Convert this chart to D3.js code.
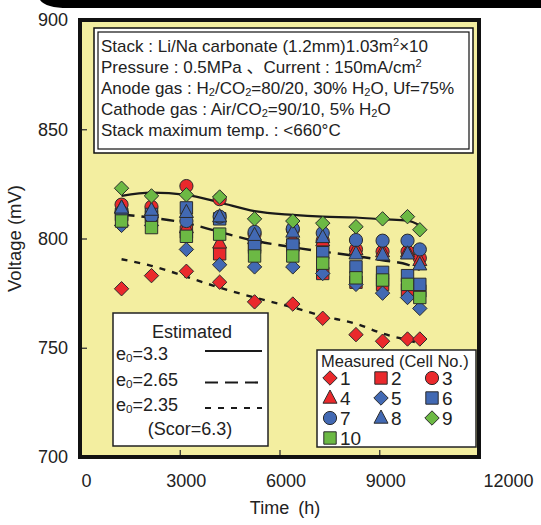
<!DOCTYPE html>
<html>
<head>
<meta charset="utf-8">
<script src="https://cdn.jsdelivr.net/npm/d3@7"></script>
<style>
  body { margin: 0; background: #fff; }
  svg text { font-family: "Liberation Sans", Arial, "Noto Sans CJK JP", sans-serif; fill: #222; }
</style>
</head>
<body>
<script>
const W = 541, H = 525;

// measurement times (h)
const times = [1250, 2150, 3200, 4200, 5250, 6400, 7300, 8300, 9100, 9850, 10220];

// cell voltages (mV), cells 1..10
const cell1  = [777, 783, 785, 780, 771, 770, 763.5, 756, 753, 754, 754];
const cell2  = [811, 810, 803, 793, 796, 797, 784, 780, 779, 776.5, 776];
const cell3  = [815.5, 814.5, 824, 818, 802, 804, 799, 795, 794, 794, 791];
const cell4  = [814, 812, 805, 798, 800, 800, 799, 795, 794, 794, 790];
const cell5  = [806, 806, 795, 788, 787, 787, 784, 779, 775, 773, 768];
const cell6  = [811, 811, 814, 809, 797, 797, 793.5, 787, 784.5, 783, 779];
const cell7  = [812, 810, 808, 810, 803, 804.5, 802.5, 799.3, 799, 799, 795];
const cell8  = [814, 813, 812, 810, 801.5, 803, 800.5, 793, 792.5, 793, 788];
const cell9  = [823, 819.5, 820, 819, 809, 808, 807, 805.4, 809, 810, 804];
const cell10 = [808, 805, 801, 802, 792, 792, 788.7, 782, 781, 779, 773];
const cells = [cell1, cell2, cell3, cell4, cell5, cell6, cell7, cell8, cell9, cell10];

const cellShapes = ["diamond", "square", "circle", "triangle", "diamond", "square", "circle", "triangle", "diamond", "square"];
const cellColors = ["red", "red", "red", "red", "blue", "blue", "blue", "blue", "green", "green"];

// estimated curves
const estTimes = [1250, 2150, 3200, 4200, 5250, 6400, 7300, 8300, 9100, 9850, 10220];
const est33  = [819.5, 821, 820, 816.5, 812.5, 810.8, 810, 809.6, 808.8, 808.2, 806];
const est265 = [811, 809.5, 807, 803, 799, 796, 794, 792, 790, 788, 785.6];
const est235 = [790.5, 787.5, 782.5, 777.5, 773, 768.5, 764.5, 761, 756.5, 753.5, 752];

const xTicks = [0, 3000, 6000, 9000, 12000];
const yTicks = [700, 750, 800, 850, 900];

const palette = { red: "#ea292c", blue: "#4269b3", green: "#6cb944" };
const yellow = "#f3eea0";

const svg = d3.select("body").append("svg")
    .attr("width", W)
    .attr("height", H);

svg.append("rect").attr("width", W).attr("height", H).attr("fill", "#fff");

// black band cut at the top
svg.append("path")
    .attr("d", "M40,0 Q46,8 68,8 L541,8 L541,0 Z")
    .attr("fill", "#000");

const x = d3.scaleLinear().domain([0, 12000]).range([80, 479]);
const y = d3.scaleLinear().domain([700, 900]).range([457, 20]);

// plot frame
svg.append("rect")
    .attr("x", x(0)).attr("y", y(900))
    .attr("width", x(12000) - x(0)).attr("height", y(700) - y(900))
    .attr("fill", yellow);

// inner ticks
svg.append("g")
    .attr("transform", `translate(0,${y(700)})`)
    .call(d3.axisBottom(x).tickValues([3000, 6000, 9000]).tickSize(-7).tickFormat(""))
    .call(g => g.select(".domain").remove())
    .call(g => g.selectAll("line").attr("stroke", "#333").attr("stroke-width", 1.3));
svg.append("g")
    .attr("transform", `translate(${x(0)},0)`)
    .call(d3.axisLeft(y).tickValues([750, 800, 850]).tickSize(-7).tickFormat(""))
    .call(g => g.select(".domain").remove())
    .call(g => g.selectAll("line").attr("stroke", "#333").attr("stroke-width", 1.3));

// tick labels
svg.append("g")
    .attr("transform", `translate(0,${y(700)})`)
    .call(d3.axisBottom(x).tickValues(xTicks).tickSize(0).tickPadding(17).tickFormat(d3.format("d")))
    .call(g => g.select(".domain").remove())
    .call(g => g.selectAll("text").attr("font-size", 18).attr("fill", "#222")
        .attr("dx", d => d === 12000 ? 29 : 6));
svg.append("g")
    .attr("transform", `translate(${x(0)},0)`)
    .call(d3.axisLeft(y).tickValues(yTicks).tickSize(0).tickPadding(12))
    .call(g => g.select(".domain").remove())
    .call(g => g.selectAll("text").attr("font-size", 18).attr("fill", "#222"));

svg.append("text")
    .attr("x", 285).attr("y", 514)
    .attr("text-anchor", "middle").attr("font-size", 18)
    .text("Time\u2002(h)");
svg.append("text")
    .attr("transform", `translate(21,${(y(700) + y(900)) / 2}) rotate(-90)`)
    .attr("text-anchor", "middle").attr("font-size", 18.5)
    .text("Voltage (mV)");

// conditions box
svg.append("rect").attr("x", 94).attr("y", 28).attr("width", 379).attr("height", 125)
    .attr("fill", "#fff").attr("stroke", "#111").attr("stroke-width", 1.5);
svg.append("rect").attr("x", 98).attr("y", 32).attr("width", 371).attr("height", 117)
    .attr("fill", "#fff").attr("stroke", "#111").attr("stroke-width", 1.2);

const infoLines = [
    [["Stack : Li/Na carbonate (1.2mm)1.03m"], ["2", "sup"], ["\u00d710"]],
    [["Pressure : 0.5MPa \u3001Current : 150mA/cm"], ["2", "sup"]],
    [["Anode gas : H"], ["2", "sub"], ["/CO"], ["2", "sub"], ["=80/20, 30% H"], ["2", "sub"], ["O, Uf=75%"]],
    [["Cathode gas : Air/CO"], ["2", "sub"], ["=90/10, 5% H"], ["2", "sub"], ["O"]],
    [["Stack maximum temp. : <660\u00b0C"]]
];

function richText(parent, parts, px, py, size) {
    const t = parent.append("text").attr("x", px).attr("y", py).attr("font-size", size);
    parts.forEach(p => {
        const s = t.append("tspan").text(p[0]);
        if (p[1] === "sup") s.attr("font-size", size * 0.65).attr("baseline-shift", "55%");
        if (p[1] === "sub") s.attr("font-size", size * 0.65).attr("baseline-shift", "-20%");
    });
    return t;
}

infoLines.forEach((parts, i) => richText(svg, parts, 101, 52 + i * 21.1, 17));

// estimated curves
const estLine = d3.line()
    .x((d, i) => x(estTimes[i]))
    .y(d => y(d))
    .curve(d3.curveMonotoneX);

const estStyles = [
    { data: est33, dash: null, w: 2.2, ly: -9 },
    { data: est265, dash: "13,7", w: 2.4, ly: -3 },
    { data: est235, dash: "6,7", w: 2.4, ly: -3 }
];

estStyles.forEach(s => {
    svg.append("path")
        .attr("d", estLine(s.data))
        .attr("fill", "none")
        .attr("stroke", "#1a1a1a")
        .attr("stroke-width", s.w)
        .attr("stroke-dasharray", s.dash);
});

// markers
const shapePath = {
    diamond: "M0,-7.2L7.2,0L0,7.2L-7.2,0Z",
    square: "M-6.2,-6.2H6.2V6.2H-6.2Z",
    circle: d3.symbol(d3.symbolCircle, Math.PI * 6.6 * 6.6)(),
    triangle: "M0,-8L7,5.2L-7,5.2Z"
};

function drawMarker(g, shape, color, cx, cy) {
    g.append("path")
        .attr("d", shapePath[shape])
        .attr("transform", `translate(${cx},${cy})`)
        .attr("fill", palette[color])
        .attr("stroke", "#2b2b2b")
        .attr("stroke-width", 1);
}

const markers = svg.append("g");
cells.forEach((vals, c) => {
    vals.forEach((v, i) => drawMarker(markers, cellShapes[c], cellColors[c], x(times[i]), y(v)));
});

// estimated legend
const lg1 = svg.append("g");
lg1.append("rect").attr("x", 113).attr("y", 313).attr("width", 155).attr("height", 133)
    .attr("fill", "#fff").attr("stroke", "#222").attr("stroke-width", 1.5);
lg1.append("text").attr("x", 192).attr("y", 338).attr("text-anchor", "middle")
    .attr("font-size", 18).text("Estimated");
const e0Labels = ["3.3", "2.65", "2.35"];
e0Labels.forEach((lab, i) => {
    const yy = 360 + i * 25.5;
    richText(lg1, [["e"], ["0", "sub"], ["=" + lab]], 116, yy, 18);
    lg1.append("line")
        .attr("x1", 205).attr("x2", 262)
        .attr("y1", yy + estStyles[i].ly).attr("y2", yy + estStyles[i].ly)
        .attr("stroke", "#1a1a1a").attr("stroke-width", 2.2)
        .attr("stroke-dasharray", estStyles[i].dash);
});
lg1.append("text").attr("x", 190).attr("y", 435).attr("text-anchor", "middle")
    .attr("font-size", 18).text("(Scor=6.3)");

// measured legend
const lg2 = svg.append("g");
lg2.append("rect").attr("x", 317).attr("y", 350).attr("width", 159).attr("height", 97)
    .attr("fill", "#fff").attr("stroke", "#222").attr("stroke-width", 1.5);
lg2.append("text").attr("x", 321).attr("y", 367).attr("font-size", 16.5).text("Measured (Cell No.)");
cells.forEach((vals, c) => {
    const col = c % 3, row = Math.floor(c / 3);
    const mx = 330 + col * 51, my = 378 + row * 20;
    drawMarker(lg2, cellShapes[c], cellColors[c], mx, my);
    lg2.append("text").attr("x", mx + 10).attr("y", my + 7).attr("font-size", 19).text(c + 1);
});

// frame border on top
svg.append("rect")
    .attr("x", x(0)).attr("y", y(900))
    .attr("width", x(12000) - x(0)).attr("height", y(700) - y(900))
    .attr("fill", "none").attr("stroke", "#111").attr("stroke-width", 4);
</script>
</body>
</html>
